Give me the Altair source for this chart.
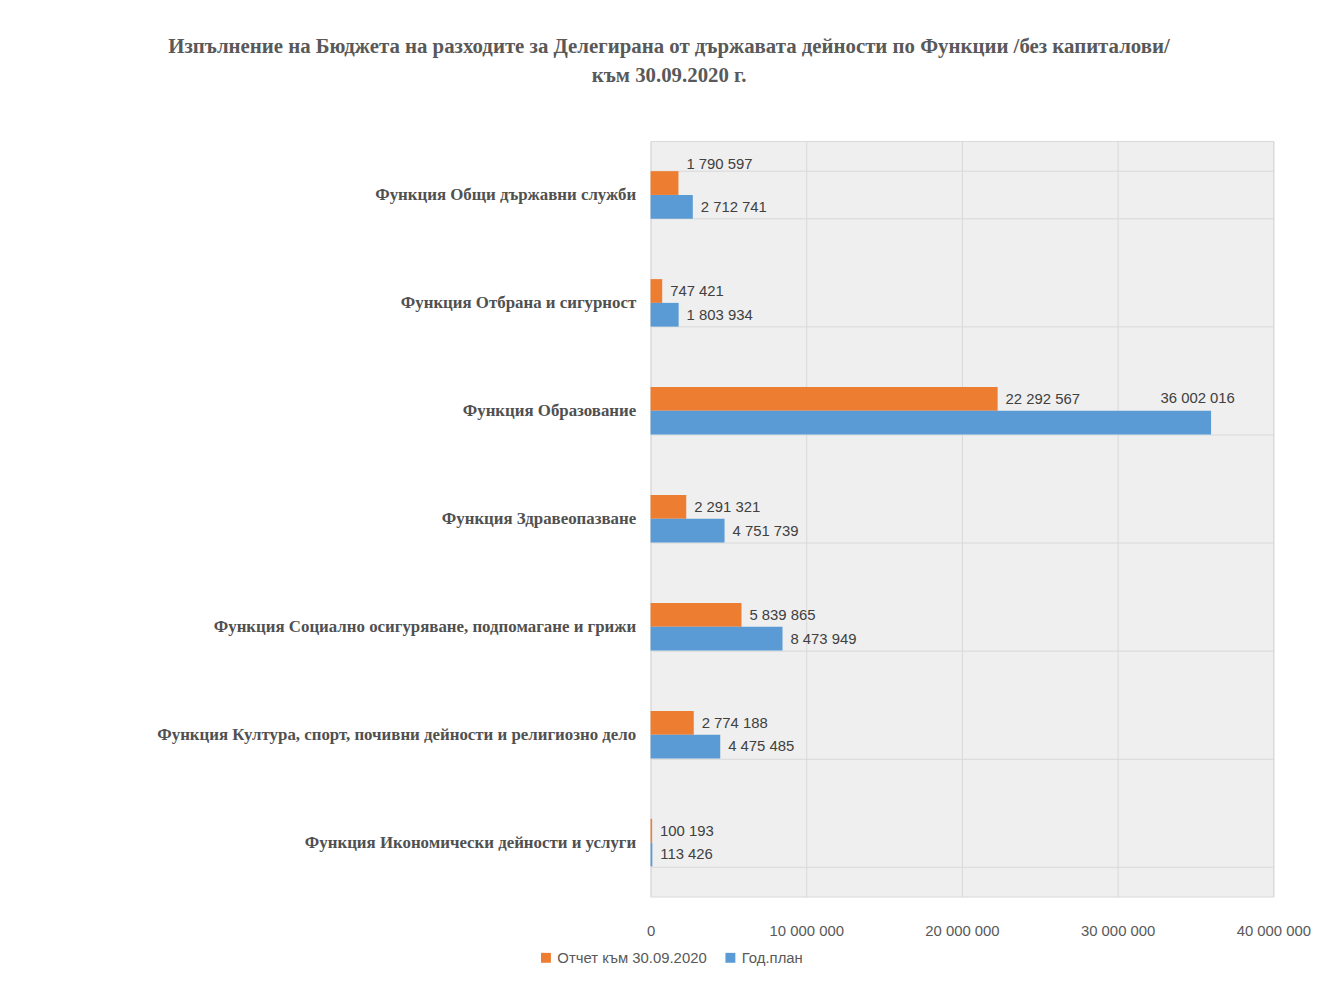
import altair as alt
import pandas as pd

categories = [
    "Функция Общи държавни служби",
    "Функция Отбрана и сигурност",
    "Функция Образование",
    "Функция Здравеопазване",
    "Функция Социално осигуряване, подпомагане и грижи",
    "Функция Култура, спорт, почивни дейности и религиозно дело",
    "Функция Икономически дейности и услуги",
]
series_names = ["Отчет към 30.09.2020", "Год.план"]
report = [1790597, 747421, 22292567, 2291321, 5839865, 2774188, 100193]
plan = [2712741, 1803934, 36002016, 4751739, 8473949, 4475485, 113426]
x_ticks = [0, 10000000, 20000000, 30000000, 40000000]
colors = ["#ED7D31", "#5B9BD5"]

rows = []
for i, c in enumerate(categories):
    for s, vals in zip(series_names, [report, plan]):
        v = vals[i]
        rows.append({"cat": c, "series": s, "value": v,
                     "label": f"{v:,}".replace(",", " "),
                     "idx": i})
df = pd.DataFrame(rows)

NUM_FONT = "Liberation Sans, Arial, sans-serif"
SERIF = "Liberation Serif, DejaVu Serif, serif"

y_enc = alt.Y("cat:N", sort=categories, title=None,
              scale=alt.Scale(paddingInner=0.56, paddingOuter=0.28),
              axis=alt.Axis(labelFont=SERIF, labelFontWeight="bold", labelFontSize=17,
                            labelColor="#505050", labelPadding=15, ticks=False, domain=False,
                            grid=True, tickBand="extent", gridColor="#d9d9d9", labelLimit=600))
yoff = alt.YOffset("series:N", sort=series_names)
x_enc = alt.X("value:Q", title=None,
              scale=alt.Scale(domain=[0, 40000000], nice=False),
              axis=alt.Axis(values=x_ticks, labelFont=NUM_FONT, labelFontSize=15,
                            labelColor="#595959", labelPadding=27, ticks=False, domain=False,
                            grid=True, gridColor="#d9d9d9", labelFlush=False,
                            labelExpr="replace(format(datum.value, ','), regexp(',', 'g'), ' ')"))

base = alt.Chart(df)

bars = base.mark_bar().encode(
    y=y_enc, yOffset=yoff, x=x_enc,
    color=alt.Color("series:N", sort=series_names,
                    scale=alt.Scale(domain=series_names, range=colors),
                    legend=alt.Legend(title=None, orient="none", direction="horizontal",
                                      legendX=-113, legendY=816, symbolType="square",
                                      symbolSize=100, labelFont=NUM_FONT, labelFontSize=15,
                                      labelColor="#595959", columnPadding=16, symbolStrokeWidth=0,
                                      labelLimit=300)),
)

normal = (
    (alt.datum.idx != 0) | (alt.datum.series != series_names[0])
) & ((alt.datum.idx != 2) | (alt.datum.series != series_names[1]))

text_common = dict(fontSize=15, font=NUM_FONT, color="#404040")

labels = base.transform_filter(normal).mark_text(align="left", dx=8, **text_common).encode(
    y=alt.Y("cat:N", sort=categories), yOffset=yoff, x="value:Q", text="label:N")

lab_up = base.transform_filter(
    (alt.datum.idx == 0) & (alt.datum.series == series_names[0])
).mark_text(align="left", dx=8, dy=-19, **text_common).encode(
    y=alt.Y("cat:N", sort=categories), yOffset=yoff, x="value:Q", text="label:N")

lab_big = base.transform_filter(
    (alt.datum.idx == 2) & (alt.datum.series == series_names[1])
).mark_text(align="right", dx=24, dy=-25, **text_common).encode(
    y=alt.Y("cat:N", sort=categories), yOffset=yoff, x="value:Q", text="label:N")

chart = alt.layer(bars, labels, lab_up, lab_big).properties(
    width=628, height=762,
    background="white",
    title=alt.Title(
        ["Изпълнение на Бюджета на разходите за Делегирана от държавата дейности по Функции /без капиталови/",
         "към 30.09.2020 г."],
        font=SERIF, fontWeight="bold", fontSize=21, color="#595959",
        lineHeight=30, anchor="middle", frame="bounds", dx=-65, offset=46),
    padding={"top": 24, "left": 149, "right": 0, "bottom": 5},
).configure_view(fill="#efefef", stroke="#d9d9d9")

chart.save("out.html", embed_options={"renderer": "svg", "actions": False})
